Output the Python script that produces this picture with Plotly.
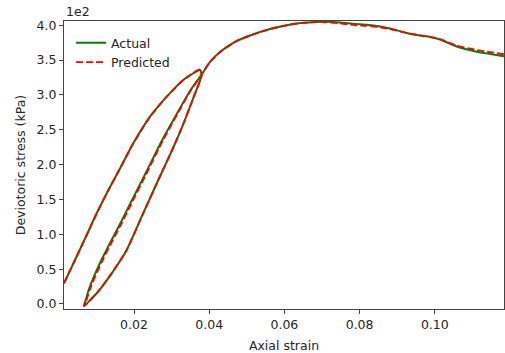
import plotly.graph_objects as go

# Axial strain (x) and deviatoric stress in kPa (y)
actual_strain = [0.00138, 0.00431, 0.00742, 0.01008, 0.01309, 0.01628, 0.01981, 0.02426,
                 0.02870, 0.03311, 0.03755,
                 0.03801, 0.03577, 0.03311, 0.03003, 0.02646, 0.02213, 0.01806, 0.01407,
                 0.01008, 0.00670,
                 0.00723, 0.00803, 0.00918, 0.01096, 0.01362, 0.01628, 0.01894, 0.02338,
                 0.02737, 0.03136, 0.03489, 0.03809,
                 0.04021, 0.04287, 0.04686, 0.05085, 0.05617, 0.06282, 0.06814, 0.07133,
                 0.07479, 0.07878, 0.08189, 0.08543, 0.08809, 0.09253, 0.09606, 0.09872,
                 0.10138, 0.10582, 0.11114, 0.11468, 0.11840]
actual_stress = [29.7, 63.1, 99.0, 130.1, 162.4, 194.4, 230.6, 268.7,
                 297.4, 321.4, 335.7,
                 328.5, 295.5, 258.2, 219.5, 177.9, 126.3, 77.5, 44.0,
                 15.4, -2.9,
                 7.2, 21.5, 37.3, 58.8, 87.5, 114.8, 143.5, 190.8,
                 233.9, 272.6, 305.6, 330.0,
                 347.2, 361.5, 375.9, 385.2, 394.5, 402.1, 404.6, 405.0,
                 403.9, 401.7, 400.6, 398.1, 395.3, 388.8, 385.2, 383.1,
                 379.5, 369.4, 362.0, 358.7, 355.4]

predicted_strain = [0.00138, 0.00431, 0.00742, 0.01008, 0.01309, 0.01628, 0.01981, 0.02426,
                    0.02870, 0.03311, 0.03755,
                    0.03801, 0.03577, 0.03311, 0.03003, 0.02646, 0.02213, 0.01806, 0.01407,
                    0.01008, 0.00670,
                    0.00745, 0.00830, 0.00950, 0.01130, 0.01395, 0.01660, 0.01925, 0.02365,
                    0.02760, 0.03152, 0.03498, 0.03809,
                    0.04021, 0.04287, 0.04686, 0.05085, 0.05617, 0.06282, 0.06814, 0.07133,
                    0.07479, 0.07878, 0.08189, 0.08543, 0.08809, 0.09253, 0.09606, 0.09872,
                    0.10138, 0.10582, 0.11114, 0.11468, 0.11840]
predicted_stress = [29.7, 63.1, 99.0, 130.1, 162.4, 194.4, 230.6, 268.7,
                    297.4, 321.4, 336.5,
                    328.5, 295.5, 258.2, 219.5, 177.9, 126.3, 77.5, 44.0,
                    15.4, -2.9,
                    7.2, 21.5, 37.3, 58.8, 87.5, 114.8, 143.5, 190.8,
                    233.9, 272.6, 305.6, 330.0,
                    347.2, 361.5, 375.9, 385.2, 394.5, 402.1, 404.4, 404.3,
                    402.6, 400.1, 399.2, 397.0, 394.5, 388.6, 385.4, 383.3,
                    380.0, 370.6, 364.4, 361.3, 358.3]

y_tick_vals = [0, 50, 100, 150, 200, 250, 300, 350, 400]
y_tick_text = ["0.0", "0.5", "1.0", "1.5", "2.0", "2.5", "3.0", "3.5", "4.0"]
x_tick_vals = [0.02, 0.04, 0.06, 0.08, 0.10]
x_tick_text = ["0.02", "0.04", "0.06", "0.08", "0.10"]

font_family = "DejaVu Sans"
text_color = "#262626"
fs = 12.5

fig = go.Figure()
fig.add_trace(go.Scatter(x=actual_strain, y=actual_stress, mode="lines", name="Actual",
                         line=dict(color="#008000", width=2, shape="spline", smoothing=0.5)))
fig.add_trace(go.Scatter(x=predicted_strain, y=predicted_stress, mode="lines", name="Predicted",
                         line=dict(color="#ff0000", width=1.9, dash="7px,3px",
                                   shape="spline", smoothing=0.5)))

axis_common = dict(showgrid=False, zeroline=False, showline=True, linecolor="#444444",
                   linewidth=1, mirror=True, ticks="outside", ticklen=4, tickwidth=1,
                   tickcolor="#444444",
                   tickfont=dict(family=font_family, size=fs, color=text_color))

fig.update_layout(
    width=505, height=353,
    margin=dict(l=64, r=1, t=21, b=44),
    plot_bgcolor="white", paper_bgcolor="white",
    font=dict(family=font_family, size=fs, color=text_color),
    xaxis=dict(range=[0.00138, 0.1184], tickvals=x_tick_vals, ticktext=x_tick_text,
               automargin=False,
               title=dict(text="Axial strain", font=dict(size=fs)), **axis_common),
    yaxis=dict(range=[-7.2, 406], tickvals=y_tick_vals, ticktext=y_tick_text,
               automargin=True,
               title=dict(text="Deviotoric stress (kPa)", font=dict(size=fs), standoff=8),
               **axis_common),
    legend=dict(x=0.016, y=0.975, xanchor="left", yanchor="top", bgcolor="rgba(0,0,0,0)",
                font=dict(size=fs, family=font_family), tracegroupgap=0),
    showlegend=True,
)
fig.add_annotation(text="1e2", xref="paper", yref="paper", x=0, y=1, xanchor="left",
                   yanchor="bottom", showarrow=False, yshift=0,
                   font=dict(family=font_family, size=fs, color=text_color))

fig.write_html("out.html", config={"displayModeBar": False},
               post_script="document.body.style.margin='0';document.body.style.overflow='hidden';")
